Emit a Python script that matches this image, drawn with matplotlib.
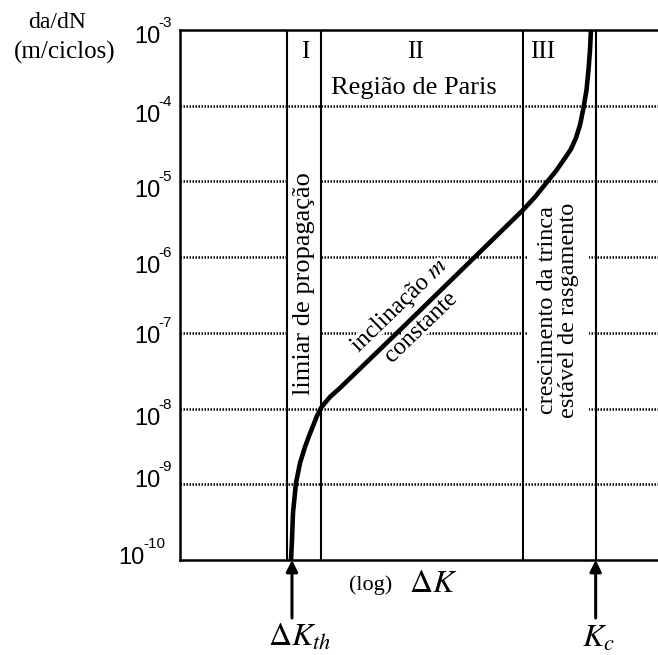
import matplotlib
matplotlib.use('Agg')
import matplotlib.pyplot as plt
import matplotlib.patheffects as pe

# ---------------- data ----------------
# x: log(ΔK) in arbitrary decade units, y: log10(da/dN)
log_dK = [1.466, 1.479, 1.492, 1.532, 1.585, 1.651, 1.704, 1.757, 1.809, 1.862,
          1.902, 1.981, 2.113, 2.906, 3.962, 4.530, 4.689, 4.847, 4.966, 5.085,
          5.164, 5.230, 5.283, 5.329, 5.369, 5.395, 5.415, 5.428]
log_rate = [-10.0, -9.736, -9.379, -8.983, -8.719, -8.507, -8.362, -8.230, -8.098, -7.992,
            -7.940, -7.847, -7.728, -6.962, -5.932, -5.377, -5.206, -5.008, -4.862, -4.691,
            -4.572, -4.426, -4.255, -4.030, -3.792, -3.528, -3.264, -3.0]
region_bounds = [1.41, 1.862, 4.530]
dK_th = 1.479
K_c = 5.49
exponents = [-3, -4, -5, -6, -7, -8, -9, -10]
region_names = ['I', 'II', 'III']
region_name_x = [1.651, 3.104, 4.794]

# ---------------- layout / style ----------------
label_baseline_px = [13, 16, 16, 16, 10, 16, 3, 4]
SERIF = 'Liberation Serif'
SANS = 'Liberation Sans'
plt.rcParams['mathtext.fontset'] = 'stix'

W, H = 658, 655
fig = plt.figure(figsize=(W / 100, H / 100), dpi=100)
ax = fig.add_axes([180 / W, 1 - 560 / H, 478 / W, 530 / H])
ax.set_yscale('log')
ax.set_xlim(0, 478 / 75.714)
ax.set_ylim(1e-10, 1e-3)
ax.set_xticks([])
ax.set_yticks([])
ax.yaxis.set_minor_locator(matplotlib.ticker.NullLocator())
for s in ['left', 'top', 'bottom']:
    ax.spines[s].set_linewidth(1.8)
ax.spines['right'].set_visible(False)

# dotted grid lines
for e in exponents[1:-1]:
    ax.axhline(10.0 ** e, color='black', lw=1.8, ls=(0, (0.6, 0.6)), zorder=1)

# region boundaries and Kc
for xb in region_bounds + [K_c]:
    ax.axvline(xb, color='black', lw=1.5, zorder=3)

# curve
ax.plot(log_dK, [10.0 ** v for v in log_rate], color='black', lw=3.3,
        solid_capstyle='butt', solid_joinstyle='round', zorder=5, clip_on=True)

# tick labels 10^e
for e, b in zip(exponents, label_baseline_px):
    R = 160 - 15 * (len(str(-e)) - 1)
    ax.annotate('10', xy=(0, 10.0 ** e), xycoords=('axes fraction', 'data'),
                xytext=(R - 180, -b), textcoords='offset pixels', ha='right',
                va='baseline', fontsize=17, family=SANS, annotation_clip=False)
    ax.annotate('-%d' % (-e), xy=(0, 10.0 ** e), xycoords=('axes fraction', 'data'),
                xytext=(R - 182, -b + 16), textcoords='offset pixels', ha='left',
                va='baseline', fontsize=11, family=SANS, annotation_clip=False)

# region names
for name, xn in zip(region_names, region_name_x):
    ax.text(xn, 10 ** -3.29, name, ha='center', va='center', fontsize=18, family=SERIF)
ax.text(3.09, 10 ** -3.766, 'Região de Paris', ha='center', va='center',
        fontsize=19, family=SERIF)

# rotated annotations
ax.text(1.638, 10 ** -6.355, 'limiar de propagação', rotation=90, ha='center',
        va='center', fontsize=19, family=SERIF, zorder=2,
        bbox=dict(facecolor='white', edgecolor='none', pad=4))
ax.text(4.992, 10 ** -6.70, 'crescimento da trinca\nestável de rasgamento',
        rotation=90, ha='center', va='center', multialignment='center',
        linespacing=1.05, fontsize=17.5, family=SERIF, zorder=2,
        bbox=dict(facecolor='white', edgecolor='none', pad=7))
ax.text(3.03, 10 ** -6.78, 'inclinação $m$\nconstante', rotation=44,
        rotation_mode='anchor', ha='center', va='center', multialignment='center',
        linespacing=1.5, fontsize=17.5, family=SERIF, zorder=2,
        path_effects=[pe.withStroke(linewidth=5, foreground='white')])

# arrows
arrow_kw = dict(arrowstyle='-|>', lw=2.2, color='black', mutation_scale=17,
                shrinkA=0, shrinkB=0)
for xa in [dK_th, K_c]:
    ax.annotate('', xy=(xa, 1e-10), xycoords='data', xytext=(0, -58),
                textcoords='offset pixels', arrowprops=arrow_kw,
                annotation_clip=False)

# axis / arrow labels
fig.text(57 / W, 1 - 22 / H, 'da/dN', ha='center', va='center', fontsize=17, family=SERIF)
fig.text(65 / W, 1 - 52 / H, '(m/ciclos)', ha='center', va='center', fontsize=18, family=SERIF)
fig.text(371 / W, 1 - 585 / H, '(log)', ha='center', va='center', fontsize=16, family=SERIF)
fig.text(433 / W, 1 - 583 / H, r'$\Delta K$', ha='center', va='center', fontsize=23)
fig.text(300 / W, 1 - 637 / H, r'$\Delta K_{th}$', ha='center', va='center', fontsize=23)
fig.text(598 / W, 1 - 638 / H, r'$K_{c}$', ha='center', va='center', fontsize=23)

fig.savefig('out.png', dpi=100)
